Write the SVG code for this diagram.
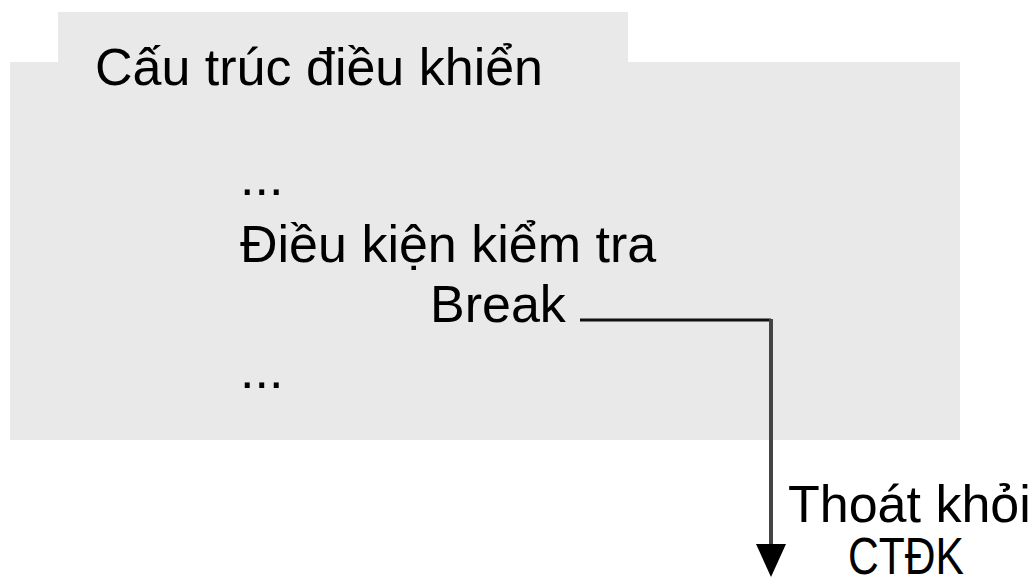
<svg xmlns="http://www.w3.org/2000/svg" width="1033" height="577" viewBox="0 0 1033 577">
<style>
.t{font-family:"Liberation Sans",Arial,sans-serif;font-size:52px;fill:#000}
</style>
<defs>
<marker id="ah" markerUnits="userSpaceOnUse" markerWidth="34" markerHeight="32" refX="1" refY="16" orient="auto" viewBox="0 0 34 32">
<polygon points="0,1 0,31 33,16" fill="#000"/>
</marker>
</defs>
<g id="container">
<path d="M58 12 H628 V62 H960 V440 H10 V62 H58 Z" fill="#e9e9e9"/>
<text class="t" x="95" y="85">Cấu trúc điều khiển</text>
</g>
<g id="body">
<text class="t" x="240" y="195">...</text>
<text class="t" x="240" y="262">Điều kiện kiểm tra</text>
<text class="t" x="430" y="322">Break</text>
<text class="t" x="240" y="388">...</text>
</g>
<g id="exit">
<text class="t" x="788" y="522">Thoát khỏi</text>
<text class="t" x="848" y="574" textLength="116" lengthAdjust="spacingAndGlyphs">CTĐK</text>
</g>
<g id="connectors">
<polyline points="580,320 771,320" fill="none" stroke="#111" stroke-width="3"/>
<polyline points="771,319 771,545" fill="none" stroke="#444" stroke-width="4" marker-end="url(#ah)"/>
</g>
</svg>
